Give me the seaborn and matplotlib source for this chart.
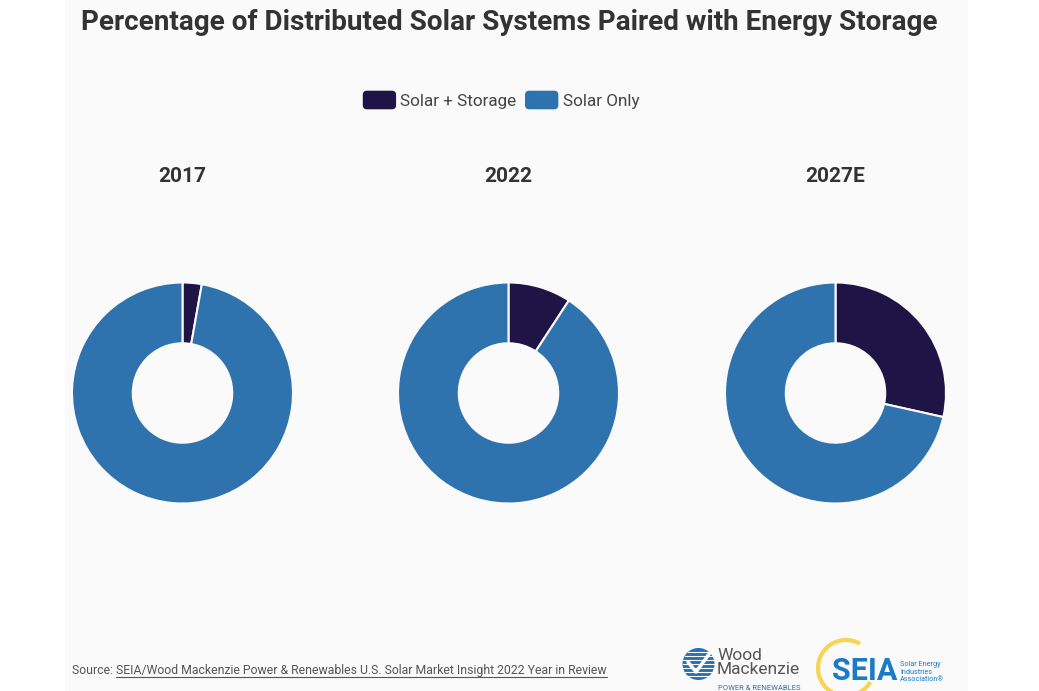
"""Donut charts: share of distributed solar systems paired with storage."""
import matplotlib
matplotlib.use("Agg")
import matplotlib.pyplot as plt
import seaborn as sns
import numpy as np
from matplotlib.patches import Patch, FancyBboxPatch, Rectangle, Circle, Arc
from matplotlib.legend_handler import HandlerPatch
from matplotlib.lines import Line2D

# data
years = ["2017", "2022", "2027E"]
storage_share = [2.8, 9.2, 28.5]
solar_only_share = [100 - v for v in storage_share]
series_labels = ["Solar + Storage", "Solar Only"]

sns.set_theme(style="white")
plt.rcParams['font.family'] = ['Roboto', 'DejaVu Sans']

colors = ["#1e1446", "#2e72ae"]
panel_bg = "#fafafa"
W, H = 1039, 691

fig = plt.figure(figsize=(W / 100, H / 100), dpi=100, facecolor="white")

# light grey card behind the chart
fig.patches.append(Rectangle((65 / W, 0), (968 - 65) / W, 1, transform=fig.transFigure,
                             facecolor=panel_bg, edgecolor="none", zorder=-5))

fig.text(509 / W, 1 - 22 / H, "Percentage of Distributed Solar Systems Paired with Energy Storage",
         ha="center", va="center", fontsize=20.1, fontweight="bold", color="#333333")

# donuts
centers_x = [182.5, 508.5, 835.5]
center_y = 393
radius = 110.5
for yr, cx, s, o in zip(years, centers_x, storage_share, solar_only_share):
    ax = fig.add_axes([(cx - radius) / W, 1 - (center_y + radius) / H,
                       2 * radius / W, 2 * radius / H])
    ax.pie([s, o], colors=colors, startangle=90, counterclock=False,
           wedgeprops=dict(width=0.55, edgecolor=panel_bg, linewidth=1.5))
    ax.set_xlim(-1, 1)
    ax.set_ylim(-1, 1)
    ax.set_aspect("equal")
    ax.set_facecolor("none")
    ax.axis("off")
    ax.text(0.5, 1.0 + (282.5 - 176) / (2 * radius), yr, transform=ax.transAxes,
            ha="center", va="center", fontsize=15, fontweight="bold", color="#333333")


def rounded_box(legend, orig_handle, xdescent, ydescent, width, height, fontsize):
    return FancyBboxPatch((-xdescent, -ydescent), width, height,
                          boxstyle="round,pad=0,rounding_size=3")


handles = [Patch(facecolor=c, edgecolor="none", label=l) for c, l in zip(colors, series_labels)]
fig.legend(handles=handles, loc="center", bbox_to_anchor=(501 / W, 1 - 100 / H), ncol=2,
           frameon=False, fontsize=12.3, labelcolor="#444444",
           handlelength=1.95, handleheight=1.3, handletextpad=0.25, columnspacing=0.5,
           handler_map={Patch: HandlerPatch(patch_func=rounded_box)})

# source line with underlined link text
src_y = 1 - 674 / H
t1 = fig.text(72 / W, src_y, "Source: ", ha="left", va="baseline", fontsize=8.8, color="#555555")
fig.canvas.draw()
bb1 = t1.get_window_extent()
t2 = fig.text(bb1.x1 / W, src_y,
              "SEIA/Wood Mackenzie Power & Renewables U.S. Solar Market Insight 2022 Year in Review",
              ha="left", va="baseline", fontsize=8.8, color="#555555")
fig.canvas.draw()
bb2 = t2.get_window_extent()
uy = (src_y * H - 2.5) / H
fig.lines.append(Line2D([bb2.x0 / W, bb2.x1 / W], [uy, uy], transform=fig.transFigure,
                        color="#555555", linewidth=0.8))

# Wood Mackenzie mark (rough)
wm_blue = "#2a6fb0"
gr = 16
fig.patches.append(Circle((698.5, H - 664), gr, transform=None, facecolor=wm_blue,
                          edgecolor="none"))
for dy in np.arange(-12, 13, 4):
    half = np.sqrt(max(gr ** 2 - dy ** 2, 0))
    fig.lines.append(Line2D([698.5 - half, 698.5 + half], [H - 664 + dy, H - 664 + dy],
                            transform=None, color="white", linewidth=0.8))
fig.lines.append(Line2D([688, 696, 712], [H - 662, H - 672, H - 650], transform=None,
                        color="white", linewidth=2.5))
fig.text(717 / W, 1 - 655 / H, "Wood", ha="left", va="center", fontsize=12.5, color="#555555")
fig.text(717 / W, 1 - 670 / H, "Mackenzie", ha="left", va="center", fontsize=12.5,
         color="#555555")
fig.text(718 / W, 1 - 688 / H, "POWER & RENEWABLES", ha="left", va="center", fontsize=5.5,
         color=wm_blue)

# SEIA mark (rough)
seia_blue = "#1b7bc4"
fig.patches.append(Arc((846, H - 668), 56, 56, theta1=60, theta2=330, transform=None,
                       color="#f6d553", linewidth=3))
fig.text(832 / W, 1 - 671 / H, "SEIA", ha="left", va="center", fontsize=22,
         fontweight="bold", color=seia_blue)
fig.text(900 / W, 1 - 672 / H, "Solar Energy\nIndustries\nAssociation®", ha="left",
         va="center", fontsize=5.2, color=seia_blue, linespacing=1.1)

fig.savefig("out.png", dpi=100, facecolor="white")
